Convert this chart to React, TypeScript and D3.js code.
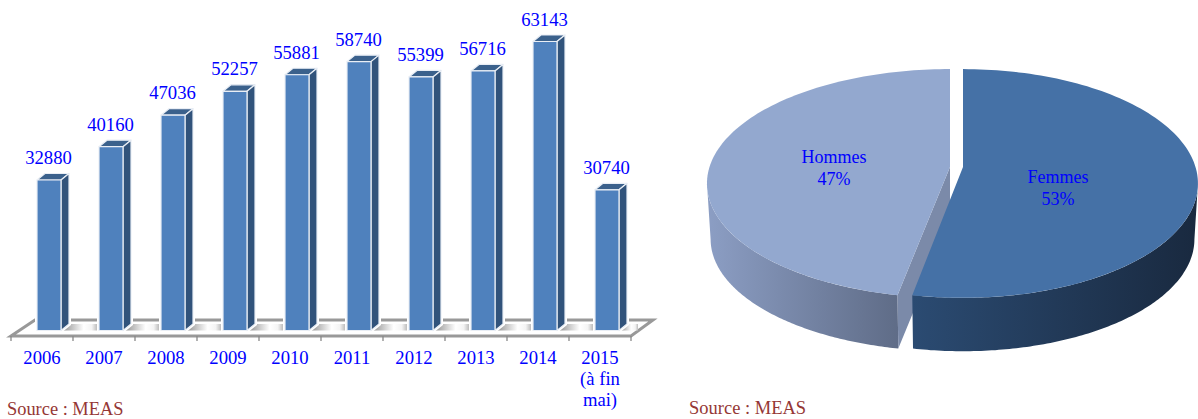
import React from "react";
import * as d3 from "d3";

const years = ["2006","2007","2008","2009","2010","2011","2012","2013","2014","2015"];
const visits = [32880,40160,47036,52257,55881,58740,55399,56716,63143,30740];
const sexes = ["Femmes","Hommes"];
const shares = [53,47];
const SERIF = "'Liberation Serif','Times New Roman',serif";
const BLUE = "#0000ff";

// bar chart geometry
const x = d3.scaleBand<string>().domain(years).range([11,631]);
const y = d3.scaleLinear().domain([0,63143]).range([330.5,41.5]);
const BW = 24, DX = 8, DY = 6.5;
const FRONT = 336, BACK = 320;

// pie geometry
const K = 0.144, RY = 112;
const slices = [
  {name:sexes[0],cx:963,cy:167,rx:232.5,top:"#4571A6",grad:"gf",lx:1058,ly:177},
  {name:sexes[1],cx:950,cy:167,rx:240.5,top:"#93A8CF",grad:"gh",lx:834,ly:157},
];
const pieAngles = d3.pie<number>().sort(null).startAngle(0).endAngle(2*Math.PI)(shares);
const DEPTH = 56, BOTTOM_RX = 0.985, BOTTOM_RY = 0.98;
const LEFTMOST = Math.PI + Math.acos(K);
const RIGHTMOST = Math.PI - Math.acos(K);
const proj = (s:any,t:number,bottom=false):[number,number]=>{
  const u=Math.sin(t), v=Math.cos(t), w=1+K*v;
  const rx = s.rx*(bottom?BOTTOM_RX:1), ry = RY*(bottom?BOTTOM_RY:1);
  return [s.cx+rx*u/w, s.cy+(bottom?DEPTH:0)-ry*v/w];
};
const samples=(a:number,b:number,n=120)=>d3.range(n+1).map(i=>a+(b-a)*i/n);
const line=d3.line();
const faceTop=(s:any,a:number,b:number)=>line([[s.cx,s.cy],...samples(a,b).map(t=>proj(s,t))])+"Z";
const faceSide=(s:any,a:number,b:number)=>line([...samples(a,b).map(t=>proj(s,t)),...samples(b,a).map(t=>proj(s,t,true))])+"Z";

export default function App(){
  const femA=pieAngles[0], homA=pieAngles[1];
  const H=slices[1], F=slices[0];
  const cut=homA.startAngle;
  const hc=proj(H,cut), hb=proj(H,cut,true);
  return (
    <svg width={1198} height={419} style={{position:"absolute",left:0,top:0,display:"block"}} fontFamily={SERIF}>
      <defs>
        <linearGradient id="gh" x1="0" x2="1" y1="0" y2="0">
          <stop offset="0" stopColor="#8C9EC4"/><stop offset="1" stopColor="#5F6C87"/>
        </linearGradient>
        <linearGradient id="gf" x1="0" x2="1" y1="0" y2="0">
          <stop offset="0" stopColor="#2B4B72"/><stop offset="1" stopColor="#19293F"/>
        </linearGradient>
        <linearGradient id="shade" x1="0" x2="1" y1="0" y2="0">
          <stop offset="0" stopColor="#8f8f8f"/><stop offset="0.3" stopColor="#c4c4c4"/>
          <stop offset="0.62" stopColor="#ffffff"/><stop offset="0.85" stopColor="#f4f4f4"/><stop offset="1" stopColor="#bdbdbd"/>
        </linearGradient>
      </defs>

      {/* floor */}
      <path d={`M${x.range()[0]},${FRONT}L${x.range()[0]+24},${BACK}H${x.range()[1]+22}L${x.range()[1]},${FRONT}Z`} fill="#fff" stroke="#999" strokeWidth={3}/>
      {[...years.map(c=>x(c)!),x.range()[1]].map((t,i)=>(
        <line key={i} x1={t} x2={t} y1={FRONT} y2={FRONT+5} stroke="#888" strokeWidth={1.3}/>
      ))}
      {years.map(c=>{
        const x0=x(c)!+26;
        const end=Math.min(x0+BW+36,x.range()[1]+7);
        return <path key={c} d={`M${x0+BW+1},${y(0)}l${DX},-${DY}H${end}V${y(0)}Z`} fill="url(#shade)"/>;
      })}

      {/* bars */}
      {years.map((c,i)=>{
        const x0=x(c)!+26, yt=y(visits[i]), yb=y(0);
        const outline=`M${x0},${yt}l${DX},-${DY}h${BW}V${yb-DY}l-${DX},${DY}H${x0}Z`;
        return (
          <g key={c}>
            <path d={outline} fill="#fff" stroke="#fff" strokeWidth={4}/>
            <g stroke="#E9EEF5" strokeWidth={1.2} strokeLinejoin="round">
              <path d={`M${x0},${yt}l${DX},-${DY}h${BW}l-${DX},${DY}Z`} fill="#3B618C"/>
              <path d={`M${x0+BW},${yt}l${DX},-${DY}V${yb-DY}l-${DX},${DY}Z`} fill="#31537B"/>
              <rect x={x0} y={yt} width={BW} height={yb-yt} fill="#4F81BD"/>
            </g>
            <text x={x0+BW/2-0.5} y={yt-16} fontSize={18.67} textAnchor="middle" fill={BLUE}>{visits[i]}</text>
          </g>
        );
      })}
      {years.map((c,i)=>(
        <text key={c} x={x(c)!+x.bandwidth()/2} y={364} fontSize={18.67} textAnchor="middle" fill={BLUE}>{c}</text>
      ))}
      <text x={x("2015")!+x.bandwidth()/2} textAnchor="middle" fontSize={18.67} fill={BLUE}>
        <tspan x={x("2015")!+x.bandwidth()/2} y={385}>(à fin</tspan>
        <tspan x={x("2015")!+x.bandwidth()/2} y={406}>mai)</tspan>
      </text>
      <text x={7} y={414.5} fontSize={18.4} fill="#953735">Source : MEAS</text>

      {/* pie */}
      <path d={faceSide(H,cut,LEFTMOST)} fill="url(#gh)"/>
      <path d={line([[H.cx,H.cy],hc,hb,[H.cx,H.cy+DEPTH]])+"Z"} fill="#7B8AA9"/>
      <path d={faceTop(H,homA.startAngle,homA.endAngle)} fill={H.top}/>
      <path d={faceSide(F,RIGHTMOST,femA.endAngle)} fill="url(#gf)"/>
      <path d={faceTop(F,femA.startAngle,femA.endAngle)} fill={F.top}/>
      {slices.map((s,i)=>(
        <text key={s.name} textAnchor="middle" fontSize={18} fill={BLUE}>
          <tspan x={s.lx} y={s.ly+6}>{s.name}</tspan>
          <tspan x={s.lx} y={s.ly+28}>{shares[i]}%</tspan>
        </text>
      ))}
      <text x={689} y={414} fontSize={18.5} fill="#953735">Source : MEAS</text>
    </svg>
  );
}
